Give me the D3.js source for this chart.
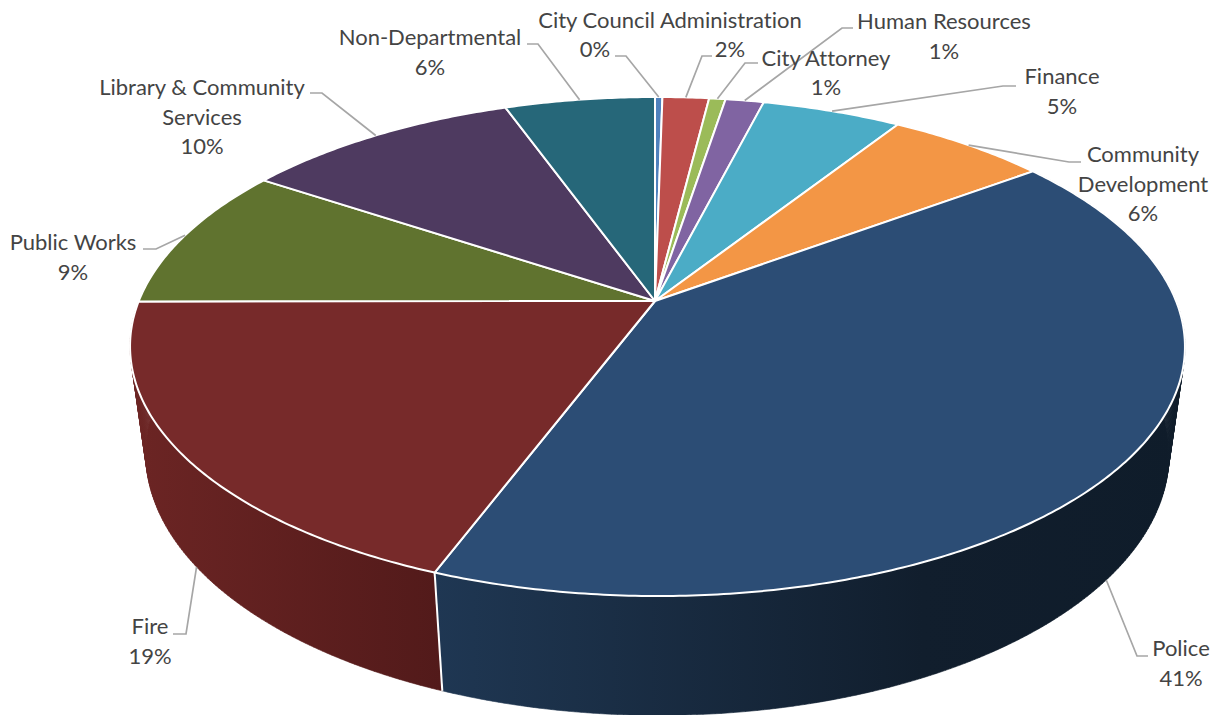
<!DOCTYPE html>
<html>
<head>
<meta charset="utf-8">
<script src="https://cdn.jsdelivr.net/npm/d3@7/dist/d3.min.js"></script>
<style>
  html, body { margin: 0; background: #fff; }
  text { font-family: Lato, "Noto Sans", sans-serif; font-size: 22px; fill: #444; text-anchor: middle; font-variant-ligatures: none; }
</style>
</head>
<body>
<svg id="chart" width="1213" height="715"></svg>
<script>
// Budget share by department, percent of the total, clockwise from twelve o'clock
const departments = ["City Council Administration", "City Clerk", "City Attorney", "Human Resources", "Finance",
  "Community Development", "Police", "Fire", "Public Works", "Library & Community Services", "Non-Departmental"];
const shares = [0.27, 1.7, 0.6, 1.4, 5.1, 5.83, 40.9, 19.25, 9.35, 10.2, 5.5];
const topColors = ["#4f81bd", "#bd4e4b", "#9bbb59", "#8064a2", "#4bacc6", "#f39645", "#2c4d75", "#772a2a", "#60732f", "#4e3a60", "#266779"];
const wallStops = {
  6: [[0, "#1f3753"], [0.65, "#111e2d"], [1, "#0f1c2a"]],
  7: [[0, "#6c2524"], [1, "#521a1a"]]
};

// Text placement: name lines, centre x and baselines, then the share's own spot and the leader elbow
const labelLayout = [
  { lines: ["City Council Administration"], x: 670, y: 28, valueX: 595, valueY: 57, leader: [[615, 56], [626, 56]] },
  { lines: [], x: 730, y: 57, valueX: 730, valueY: 57, leader: [[712, 56], [702, 56]] },
  { lines: ["City Attorney"], x: 826, y: 66, valueX: 826, valueY: 95, leader: [[758, 63], [745, 63]] },
  { lines: ["Human Resources"], x: 944, y: 29, valueX: 944, valueY: 59, leader: [[853, 28], [842, 28]] },
  { lines: ["Finance"], x: 1062, y: 84, valueX: 1062, valueY: 114, leader: [[1016, 86], [1003, 86]] },
  { lines: ["Community", "Development"], x: 1143, y: 162, valueX: 1143, valueY: 221, leader: [[1081, 162], [1069, 162]] },
  { lines: ["Police"], x: 1181, y: 656, valueX: 1181, valueY: 686, leader: [[1148, 656], [1137, 656]], onBase: true },
  { lines: ["Fire"], x: 150, y: 634, valueX: 150, valueY: 664, leader: [[173, 634], [186, 634]], onBase: true },
  { lines: ["Public Works"], x: 73, y: 250, valueX: 73, valueY: 280, leader: [[143, 249], [156, 249]] },
  { lines: ["Library & Community", "Services"], x: 202, y: 95, valueX: 202, valueY: 154, leader: [[310, 93], [322, 93]] },
  { lines: ["Non-Departmental"], x: 430, y: 45, valueX: 430, valueY: 75, leader: [[527, 44], [538, 44]] }
];

// Perspective camera for the tilted disc: centre of the pie on screen and projective terms
const view = { cx: 655, cy: 301, ax: 518.6, ay: 241.2, tilt: 0.1824, yaw: 0.00466, dropY: 110, dropW: 0.03 };

// Projects an angle on the rim (0 = up, clockwise) at depth z (0 = top face, 1 = base)
function project(angle, z = 0) {
  const u = Math.sin(angle), v = -Math.cos(angle);
  const w = 1 - view.tilt * v - view.yaw * u + view.dropW * z;
  return [view.cx + view.ax * u / w, view.cy + (view.ay * v + view.dropY * z) / w];
}

const svg = d3.select("#chart");
const arcs = d3.pie().sort(null).value(d => d)(shares);
const line = d3.line();
const sweep = (a0, a1) => {
  const n = Math.max(2, Math.ceil((a1 - a0) / 0.01));
  return d3.range(n + 1).map(i => a0 + (a1 - a0) * i / n);
};

// Side wall gradients run across the screen
const defs = svg.append("defs");
Object.entries(wallStops).forEach(([i, stops]) => {
  const a = arcs[+i];
  const xs = sweep(a.startAngle, a.endAngle).flatMap(t => [project(t, 0)[0], project(t, 1)[0]]);
  defs.append("linearGradient").attr("id", "wall" + i)
    .attr("gradientUnits", "userSpaceOnUse")
    .attr("x1", d3.min(xs)).attr("x2", d3.max(xs)).attr("y1", 0).attr("y2", 0)
    .selectAll("stop").data(stops).join("stop")
    .attr("offset", d => d[0]).attr("stop-color", d => d[1]);
});

// Each wall is the union of narrow quads, so its outline follows the tangent down the cylinder
const wallPath = d => {
  const ts = sweep(d.startAngle, d.endAngle);
  return d3.pairs(ts).map(([a, b]) =>
    line([project(a, 0), project(b, 0), project(b, 1), project(a, 1)]) + "Z").join("");
};
svg.append("g").selectAll("path").data(arcs.filter((d, i) => wallStops[i])).join("path")
  .attr("d", wallPath)
  .attr("fill", d => `url(#wall${d.index})`)
  .attr("stroke", d => `url(#wall${d.index})`).attr("stroke-width", 0.6);

// White seam where the two walls meet
const seam = arcs[6].endAngle;
svg.append("path").attr("d", line([project(seam, 0), project(seam, 1)]))
  .attr("stroke", "#fff").attr("stroke-width", 2).attr("fill", "none");

// Top face of the pie
svg.append("g").selectAll("path").data(arcs).join("path")
  .attr("d", d => line([[view.cx, view.cy], ...sweep(d.startAngle, d.endAngle).map(t => project(t, 0))]) + "Z")
  .attr("fill", (d, i) => topColors[i])
  .attr("stroke", "#fff").attr("stroke-width", 2).attr("stroke-linejoin", "round");

// Leader lines end on the rim at the middle of each slice
svg.append("g").selectAll("path").data(arcs).join("path")
  .attr("d", (d, i) => {
    const l = labelLayout[i];
    return line([...l.leader, project((d.startAngle + d.endAngle) / 2, l.onBase ? 1 : 0)]);
  })
  .attr("fill", "none").attr("stroke", "#a6a6a6").attr("stroke-width", 1.7);

// Department names and their rounded shares
const labels = svg.append("g").selectAll("g").data(labelLayout).join("g");
labels.selectAll("text.name").data(d => d.lines.map((t, k) => ({ t, x: d.x, y: d.y + k * 29.5 }))).join("text")
  .attr("class", "name").attr("x", d => d.x).attr("y", d => d.y).text(d => d.t);
labels.append("text").attr("x", d => d.valueX).attr("y", d => d.valueY)
  .text((d, i) => Math.round(shares[i]) + "%");
</script>
</body>
</html>
